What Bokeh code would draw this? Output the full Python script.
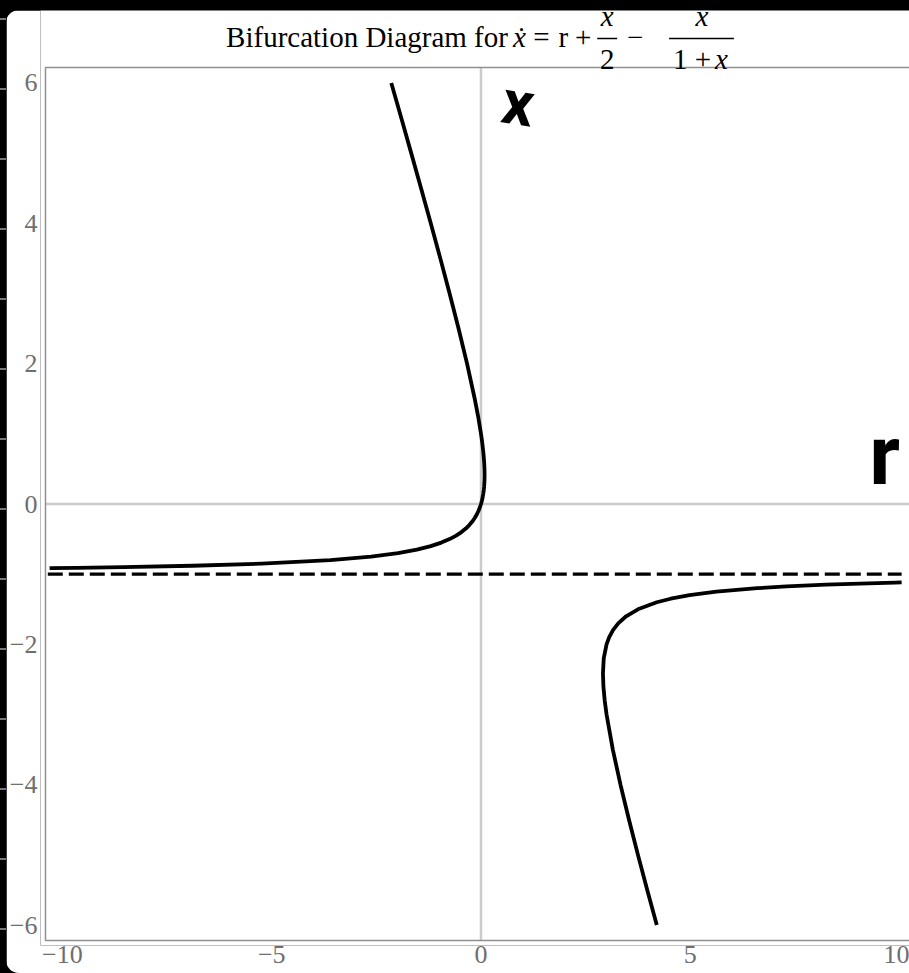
from bokeh.plotting import figure
from bokeh.models import Range1d, FixedTicker, Label, Arrow
from bokeh.layouts import column
from bokeh.embed import file_html
from bokeh.resources import INLINE

# Equilibria of  x' = r + x/2 - x/(1+x):  branch above the asymptote x = -1
upper_x = [-0.915, -0.91, -0.9, -0.88, -0.85, -0.8, -0.75, -0.7, -0.65, -0.6,
           -0.55, -0.5, -0.45, -0.4, -0.35, -0.3, -0.25, -0.2, -0.15, -0.1,
           -0.05, 0, 0.05, 0.1, 0.15, 0.2, 0.25, 0.3, 0.35, 0.414,
           0.5, 0.6, 0.7, 0.8, 0.9, 1.0, 1.25, 1.5, 2, 2.5,
           3, 3.5, 4, 4.5, 5, 5.5, 6]
upper_r = [-10.307, -9.656, -8.55, -6.893, -5.242, -3.6, -2.625, -1.983, -1.532, -1.2,
           -0.947, -0.75, -0.593, -0.467, -0.363, -0.279, -0.208, -0.15, -0.101, -0.061,
           -0.028, 0, 0.023, 0.041, 0.055, 0.067, 0.075, 0.081, 0.084, 0.086,
           0.083, 0.075, 0.062, 0.044, 0.024, 0, -0.069, -0.15, -0.333, -0.536,
           -0.75, -0.972, -1.2, -1.432, -1.667, -1.904, -2.143]

# branch below the asymptote
lower_x = [-1.1177, -1.12, -1.13, -1.15, -1.175, -1.2, -1.25, -1.3, -1.35, -1.4,
           -1.5, -1.6, -1.7, -1.8, -1.9, -2.0, -2.2, -2.414, -2.6, -2.8,
           -3.0, -3.5, -4.0, -4.5, -5.0, -5.5, -6.0]
lower_r = [10.05, 9.893, 9.257, 8.242, 7.302, 6.6, 5.625, 4.983, 4.532, 4.2,
           3.75, 3.467, 3.279, 3.15, 3.061, 3.0, 2.933, 2.914, 2.925, 2.956,
           3.0, 3.15, 3.333, 3.536, 3.75, 3.972, 4.2]

# asymptote x = -1
asym_r = [-10.35, 10.05]
asym_x = [-1, -1]

x_ticks = [-10, -5, 0, 5, 10]
y_ticks = [-6, -4, -2, 0, 2, 4, 6]

# plot range drawn inside the frame border
X0, X1 = -10.405, 10.238
Y0, Y1 = -6.22, 6.22

# the canvas frame also holds the title band above the border
XK = (X1 - X0) / 866          # data units per pixel, horizontal
YK = (Y1 - Y0) / 873          # data units per pixel, vertical
XL = X0 - 5 * XK
YT = Y1 + 57 * YK
YB = Y0 - 5 * YK


def dx(px):
    return XL + (px - 38) * XK


def dy(py):
    return YT - (py - 10) * YK


SERIF = "Liberation Serif"
FRAME_GRAY = "#8f8f8f"
LABEL_GRAY = "#6e6e6e"
ZERO_GRAY = "#cbcbcb"

p = figure(width=903, height=963,
           x_range=Range1d(XL, X1), y_range=Range1d(YB, YT),
           output_backend="svg", toolbar_location=None,
           min_border_left=32, min_border_right=0,
           min_border_top=0, min_border_bottom=28,
           background_fill_color="white", border_fill_color="white",
           outline_line_color=None,
           margin=(10, 0, 0, 6),
           styles={"border-radius": "13px 0 0 13px", "overflow": "hidden"})
p.grid.visible = False


def minus(v):
    return str(v).replace("-", "\u2212")


for ax, ticks in ((p.xaxis[0], x_ticks), (p.yaxis[0], y_ticks)):
    ax.ticker = FixedTicker(ticks=ticks)
    ax.major_label_overrides = {t: minus(t) for t in ticks}
    ax.major_tick_out = 0
    ax.major_tick_in = 0
    ax.minor_tick_out = 0
    ax.minor_tick_in = 0
    ax.axis_line_color = None
    ax.major_label_text_font = SERIF
    ax.major_label_text_font_size = "26px"
    ax.major_label_text_color = LABEL_GRAY
p.xaxis.major_label_standoff = 0
p.yaxis.major_label_standoff = 3

# axes through the origin
p.line([0, 0], [Y0, Y1], line_color=ZERO_GRAY, line_width=2.5)
p.line([X0, X1 + 0.2], [0, 0], line_color=ZERO_GRAY, line_width=2.5)

# frame border (open on the right, where the canvas ends)
p.line([X1 + 0.2, X0, X0, X1 + 0.2], [Y1, Y1, Y0, Y0],
       line_color=FRAME_GRAY, line_width=1.5)

p.line(asym_r, asym_x, line_color="black", line_width=3.2, line_dash="15 6")
p.line(upper_r, upper_x, line_color="black", line_width=3.8, line_join="round")
p.line(lower_r, lower_x, line_color="black", line_width=3.8, line_join="round")

# baseline correction for Label text placed with an alphabetic baseline
BASE_SHIFT = 0.36


def label(px, py, txt, size, font=SERIF, align="center", style="normal", angle=0.0):
    p.add_layout(Label(x=dx(px), y=dy(py - BASE_SHIFT * size), text=txt,
                       text_font=font, text_font_size=f"{size}px",
                       text_font_style=style, text_color="black",
                       text_align=align, text_baseline="alphabetic", angle=angle))


# hand-written axis names
label(517, 125, "x", 62, font="Roboto", style="bold", angle=-0.15)
label(884, 485, "r", 84, font="Roboto", style="bold")

# title: Bifurcation Diagram for x' = r + x/2 - x/(1+x)
TS = 29
BASE = 47
NUM = 26
DEN = 69
BAR = 38


def bar(px0, px1, py):
    p.add_layout(Arrow(x_start=dx(px0), y_start=dy(py), x_end=dx(px1), y_end=dy(py),
                       start=None, end=None, line_color="black", line_width=1.4))


label(224, BASE, "Bifurcation Diagram for", TS, align="left")
label(518, BASE, "\u1e8b", TS, style="italic")
label(540, BASE, "=", TS)
label(562, BASE, "r", TS)
label(582, BASE, "+", TS)
bar(596, 616, BAR)
label(606, NUM, "x", TS, style="italic")
label(606, DEN, "2", TS)
label(634, BASE, "\u2212", TS)
bar(668, 733, BAR)
label(701, NUM, "x", TS, style="italic")
label(672, DEN, "1 +", TS, align="left")
label(714, DEN, "x", TS, align="left", style="italic")

layout = column(p, styles={
    "background-color": "black",
    "background-image": "linear-gradient(to bottom, transparent 0 68px, #777 68px 70px)",
    "background-size": "6px 70px",
    "background-repeat": "repeat-y",
    "background-position": "0 -50px",
})

open("out.html", "w").write(file_html(layout, INLINE))
